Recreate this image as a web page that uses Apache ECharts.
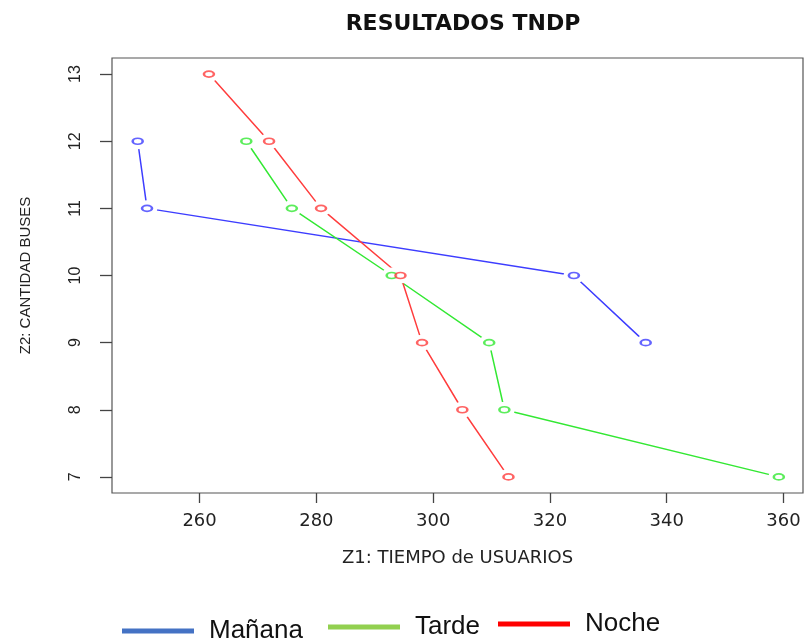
<!DOCTYPE html>
<html>
<head>
<meta charset="utf-8">
<script src="https://cdn.jsdelivr.net/npm/echarts@6/dist/echarts.min.js"></script>
<style>html,body{margin:0;padding:0;background:#fff;}#c{width:804px;height:642px;}</style>
</head>
<body>
<div id="c"></div>
<script>
var mananaX = [249.4, 251.0, 324.1, 336.4];
var mananaY = [12, 11, 10, 9];
var tardeX = [268.0, 275.8, 292.9, 309.6, 312.2, 359.2];
var tardeY = [12, 11, 10, 9, 8, 7];
var nocheX = [261.6, 271.9, 280.8, 294.4, 298.1, 305.0, 312.9];
var nocheY = [13, 12, 11, 10, 9, 8, 7];
var xTicks = [260, 280, 300, 320, 340, 360];
var yTicks = [7, 8, 9, 10, 11, 12, 13];
var seriesNames = ['Mañana', 'Tarde', 'Noche'];

function pairs(xs, ys) { return xs.map(function (x, i) { return [x, ys[i]]; }); }

var groups = [
  { name: seriesNames[0], data: pairs(mananaX, mananaY), color: '#3d3dff', legendColor: '#4472C4' },
  { name: seriesNames[1], data: pairs(tardeX, tardeY), color: '#33e833', legendColor: '#92D050' },
  { name: seriesNames[2], data: pairs(nocheX, nocheY), color: '#ff3d3d', legendColor: '#FF0000' }
];

var series = [];
groups.forEach(function (g) {
  series.push({ name: g.name, type: 'line', data: g.data, showSymbol: false, z: 2,
    lineStyle: { color: g.color, width: 1.5 }, itemStyle: { color: g.color }, animation: false });
});
groups.forEach(function (g) {
  series.push({ name: g.name + '_gap', type: 'scatter', data: g.data, symbol: 'circle', symbolSize: [21, 16], z: 3,
    itemStyle: { color: '#ffffff', opacity: 1 }, silent: true, animation: false });
});
groups.forEach(function (g) {
  series.push({ name: g.name + '_pt', type: 'scatter', data: g.data, symbol: 'emptyCircle', symbolSize: [10, 6], z: 4,
    itemStyle: { color: g.color, borderColor: g.color, borderWidth: 1.5 }, silent: true, animation: false });
});

var legendTops = [616, 612, 609];
var legendLefts = [122, 328, 498];
var legends = groups.map(function (g, i) {
  return {
    left: legendLefts[i], top: legendTops[i], orient: 'horizontal', padding: 0,
    itemWidth: 72, itemHeight: 5, icon: 'rect', selectedMode: false,
    data: [{ name: g.name, icon: 'rect', itemStyle: { color: g.legendColor, borderWidth: 0 } }],
    textStyle: { fontFamily: 'Liberation Sans, Arial, sans-serif', fontSize: 26, color: '#111', padding: [0, 0, 0, 10], lineHeight: 30 }
  };
});

var chart = echarts.init(document.getElementById('c'), null, { renderer: 'canvas' });
chart.setOption({
  backgroundColor: '#ffffff',
  animation: false,
  title: {
    text: 'RESULTADOS TNDP', left: 458, top: 8, textAlign: 'center',
    textStyle: { fontFamily: 'DejaVu Sans, sans-serif', fontWeight: 'bold', fontSize: 22, color: '#111' }
  },
  legend: legends,
  grid: { left: 112, right: 1, top: 58, bottom: 149, show: true, borderColor: '#555', borderWidth: 1.2, backgroundColor: 'transparent' },
  xAxis: {
    type: 'value', min: 245, max: 363.34,
    name: 'Z1: TIEMPO de USUARIOS', nameLocation: 'middle', nameGap: 56,
    nameTextStyle: { fontFamily: 'DejaVu Sans, sans-serif', fontSize: 18, color: '#222' },
    axisLine: { show: false },
    axisTick: { show: true, inside: false, length: 10, customValues: xTicks, lineStyle: { color: '#444', width: 1.3 } },
    axisLabel: { customValues: xTicks, margin: 19, fontFamily: 'DejaVu Sans, sans-serif', fontSize: 18, color: '#222' },
    splitLine: { show: false }
  },
  yAxis: {
    type: 'value', min: 6.76, max: 13.24,
    name: 'Z2: CANTIDAD BUSES', nameLocation: 'middle', nameGap: 79, nameRotate: 90,
    nameTextStyle: { fontFamily: 'Liberation Sans, Arial, sans-serif', fontSize: 15, color: '#222' },
    axisLine: { show: false },
    axisTick: { show: true, inside: false, length: 12, customValues: yTicks, lineStyle: { color: '#444', width: 1.3 } },
    axisLabel: { customValues: yTicks, rotate: 90, margin: 28, fontFamily: 'Liberation Sans, Arial, sans-serif', fontSize: 16, color: '#222' },
    splitLine: { show: false }
  },
  series: series
});
</script>
</body>
</html>
